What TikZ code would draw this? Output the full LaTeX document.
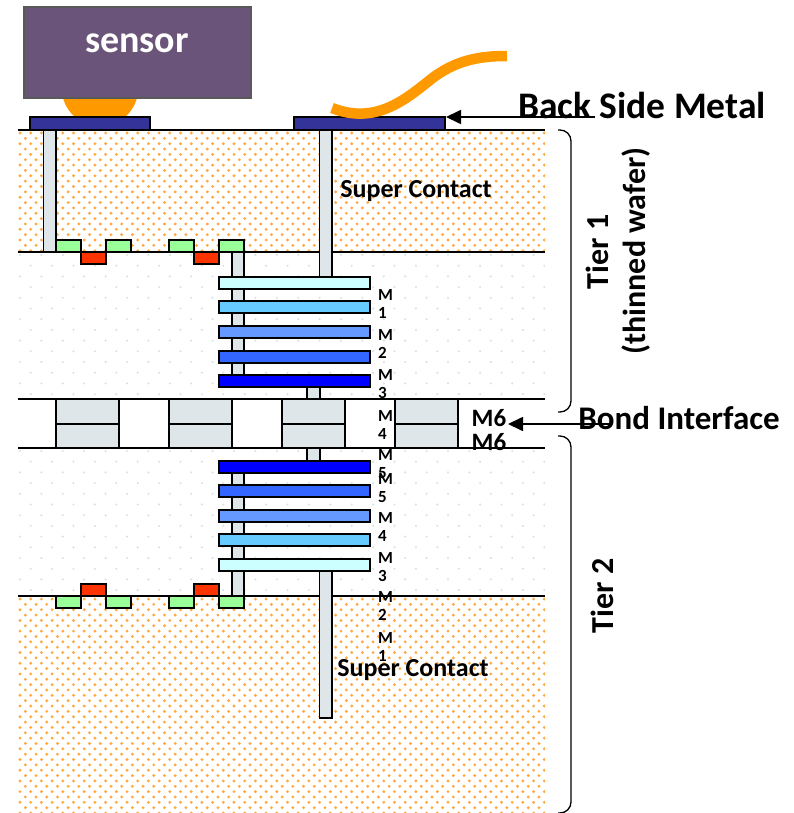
\documentclass[tikz,border=0pt]{standalone}
\usepackage{fontspec}
\setmainfont{Carlito}
\usepackage{tikz}
\usetikzlibrary{arrows.meta}
\definecolor{sensorc}{HTML}{6B5479}
\definecolor{padc}{HTML}{333399}
\definecolor{viac}{HTML}{DEE6EA}
\definecolor{bumpc}{HTML}{FF9900}
\definecolor{dotc}{HTML}{FFA940}
\definecolor{faintc}{HTML}{D5E4E4}
\definecolor{nwell}{HTML}{99FF99}
\definecolor{gatec}{HTML}{FF3300}
\definecolor{mone}{HTML}{CCFFFF}
\definecolor{mtwo}{HTML}{66CCFF}
\definecolor{mthree}{HTML}{6699FF}
\definecolor{mfour}{HTML}{3366FF}
\definecolor{mfive}{HTML}{0000FF}
\tikzset{
  box/.style={draw=black, line width=1.7pt},
  via/.style={box, fill=viac},
  tierline/.style={draw=black, line width=1.5pt},
  brace/.style={draw=black, line width=1.3pt, rounded corners=11pt},
  lead/.style={draw=black, line width=1.7pt, -{Triangle[length=15pt,width=14pt]}},
  wire/.style={draw=bumpc, line width=10.5pt},
  mlabel/.style={font=\bfseries\fontsize{17}{18}\selectfont, align=left, anchor=west, inner sep=0pt},
  big/.style={font=\bfseries\fontsize{#1}{#1}\selectfont, inner sep=0pt},
}
% top, bottom, step, colour, radius
\newcommand{\dotfield}[5]{
  \begin{scope}
    \clip (18,#1) rectangle (545,#2);
    \pgfmathtruncatemacro{\nrow}{(#2-#1)/(#3/2)}
    \pgfmathtruncatemacro{\ncol}{527/#3}
    \fill[#4] foreach \r in {0,...,\nrow} {foreach \c in {0,...,\ncol} {
      ({20+\c*#3+mod(\r,2)*#3/2},{#1+3+\r*#3/2}) circle (#5)}};
  \end{scope}
}
\begin{document}
\begin{tikzpicture}[x=1pt,y=-1pt]
  \useasboundingbox (0,0) rectangle (794,813);
  \dotfield{130}{252}{10.7}{dotc}{1.6}
  \dotfield{596}{813}{10.7}{dotc}{1.6}
  \dotfield{252}{399}{21.4}{faintc}{1.2}
  \dotfield{448}{596}{21.4}{faintc}{1.2}
  % bump under the sensor
  \begin{scope}
    \clip (40,90) rectangle (160,118);
    \fill[bumpc] (100,88) circle (38.3);
  \end{scope}
  \draw[draw=black!65, fill=sensorc, line width=1.3pt] (24,7) rectangle (251,98);
  \node[big=38, text=white] (sensor) at (137,43) {sensor};
  % back side pads
  \draw[box, fill=padc] (30,117) rectangle (150,130);
  \draw[box, fill=padc] (294,117) rectangle (445,130);
  \coordinate (padtip) at (446,117);
  % tier boundaries
  \foreach \y in {130,252,399,448,596}
    \draw[tierline] (18,\y)--(545,\y);
  % super contacts and long vias
  \draw[via] (43.5,130) rectangle (56,252);
  \draw[via] (319.5,130) rectangle (332,277);
  \draw[via] (319.5,571) rectangle (332,718);
  \draw[via] (232,252) rectangle (244,277);
  \draw[via] (232,571) rectangle (244,596);
  % devices
  \foreach \x in {56,106,169,219}{
    \draw[box, fill=nwell] (\x,240) rectangle (\x+25,252);
    \draw[box, fill=nwell] (\x,596) rectangle (\x+25,608);
  }
  \foreach \x in {81,194}{
    \draw[box, fill=gatec] (\x,252) rectangle (\x+25,264);
    \draw[box, fill=gatec] (\x,584) rectangle (\x+25,596);
  }
  % vias between metals
  \foreach \a/\b in {289/301,313/326,338/351,363/375,473/485,497/510,521/535,546/559}
    \draw[via] (232,\a) rectangle (244,\b);
  \draw[via] (307,387) rectangle (320,399);
  \draw[via] (307,448) rectangle (320,461);
  % metal layers
  \foreach \t/\c in {277/mone,301/mtwo,326/mthree,351/mfour,375/mfive,
                     461/mfive,485/mfour,510/mthree,534/mtwo,559/mone}
    \draw[box, fill=\c] (219,\t) rectangle (370,\t+12);
  % bond pads
  \foreach \x in {56,169,282,395}{
    \draw[via] (\x,399) rectangle (\x+63,448);
    \draw[box] (\x,424)--(\x+63,424);
  }
  % wire bond
  \draw[wire] (332,108) .. controls (375,125) and (405,100) .. (430,80)
              .. controls (455,60) and (480,56) .. (507,56);
  % metal labels
  \node[mlabel] (lm1)  at (378,304) {M\\1};
  \node[mlabel] (lm2)  at (378,344) {M\\2};
  \node[mlabel] (lm3)  at (378,384) {M\\3};
  \node[mlabel] (lm4)  at (378,425) {M\\4};
  \node[mlabel] (lm5)  at (378,464) {M\\5};
  \node[mlabel] (lm5b) at (378,488) {M\\5};
  \node[mlabel] (lm4b) at (378,527) {M\\4};
  \node[mlabel] (lm3b) at (378,567) {M\\3};
  \node[mlabel] (lm2b) at (378,606) {M\\2};
  \node[mlabel] (lm1b) at (378,647) {M\\1};
  \node[big=25] (mtop) at (489,418) {M6};
  \node[big=25] (mbot) at (489,442) {M6};
  \node[big=26] (sctop) at (416,191) {Super Contact};
  \node[big=26] (scbot) at (413,670) {Super Contact};
  % tier brackets
  \draw[brace] (558,130)--(571,130)--(571,412)--(558,412);
  \draw[brace] (558,436)--(571,436)--(571,813)--(558,813);
  \node[big=32, rotate=90] (tierone) at (597,252) {Tier 1};
  \node[big=32, rotate=90] (thinned) at (636,251) {(thinned wafer)};
  \node[big=32, rotate=90] (tiertwo) at (602,596) {Tier 2};
  % leaders
  \coordinate (backstart) at (595,117);
  \coordinate (bondstart) at (610,424);
  \coordinate (bondtip) at (508,424);
  \draw[lead] (backstart)--(padtip);
  \draw[lead] (bondstart)--(bondtip);
  \node[big=37.5] (backside) at (642,105) {Back Side Metal};
  \node[big=33] (bond) at (679,418) {Bond Interface};
\end{tikzpicture}
\end{document}
